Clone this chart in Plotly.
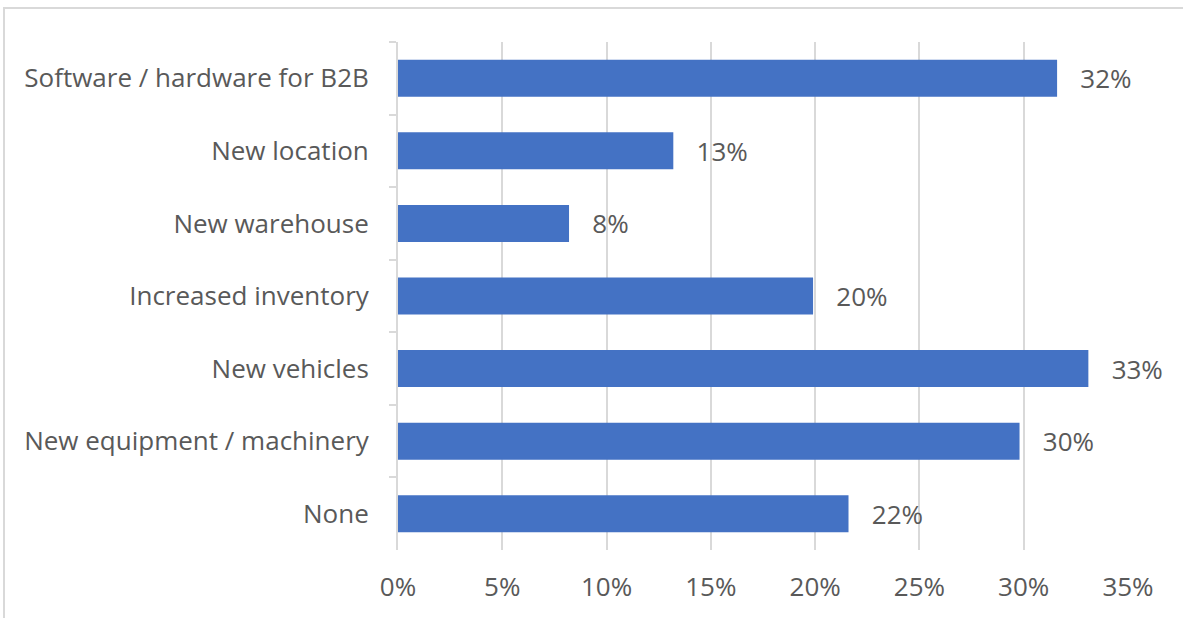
import plotly.graph_objects as go

# Share of respondents by planned investment (top to bottom)
categories = [
    "Software / hardware for B2B",
    "New location",
    "New warehouse",
    "Increased inventory",
    "New vehicles",
    "New equipment / machinery",
    "None",
]
shares = [0.316, 0.132, 0.082, 0.199, 0.331, 0.298, 0.216]

x_ticks = [0, 0.05, 0.10, 0.15, 0.20, 0.25, 0.30, 0.35]

FONT = "Open Sans, Noto Sans, sans-serif"
FONT_SIZE = 26
TEXT_GRAY = "#595959"
GRID_GRAY = "#d9d9d9"
BAR_BLUE = "#4472c4"

fig = go.Figure(
    go.Bar(
        x=shares,
        y=categories,
        orientation="h",
        marker=dict(color=BAR_BLUE, line=dict(width=0)),
        texttemplate="\u00a0\u00a0\u00a0%{x:.0%}",
        textposition="outside",
        textfont=dict(family=FONT, size=FONT_SIZE, color=TEXT_GRAY),
        constraintext="none",
        cliponaxis=False,
        hoverinfo="skip",
    )
)

fig.update_layout(
    width=1183,
    height=618,
    margin=dict(l=398, r=55, t=42, b=68),
    paper_bgcolor="white",
    plot_bgcolor="white",
    bargap=0.49,
    showlegend=False,
    font=dict(family=FONT, size=FONT_SIZE, color=TEXT_GRAY),
)

fig.update_xaxes(
    range=[0, 0.35],
    tickvals=x_ticks,
    tickformat=".0%",
    showgrid=True,
    gridcolor=GRID_GRAY,
    gridwidth=2,
    zeroline=False,
    showline=False,
    ticks="",
    ticklabelstandoff=19,
    tickfont=dict(family=FONT, size=FONT_SIZE, color=TEXT_GRAY),
)

fig.update_yaxes(
    type="category",
    autorange="reversed",
    showgrid=False,
    showline=True,
    linecolor=GRID_GRAY,
    linewidth=2,
    ticks="outside",
    tickson="boundaries",
    ticklen=7,
    tickwidth=2,
    tickcolor=GRID_GRAY,
    ticklabelstandoff=22,
    tickfont=dict(family=FONT, size=FONT_SIZE, color=TEXT_GRAY),
)

# Light chart-area border (left and top edges visible)
fig.add_shape(
    type="rect",
    xref="paper",
    yref="paper",
    x0=(4 - 398) / 730,
    x1=(1200 - 398) / 730,
    y0=-0.3,
    y1=1 + (42 - 8) / 508,
    line=dict(color=GRID_GRAY, width=2),
    fillcolor="rgba(0,0,0,0)",
    layer="below",
)

fig.write_html("out.html")
